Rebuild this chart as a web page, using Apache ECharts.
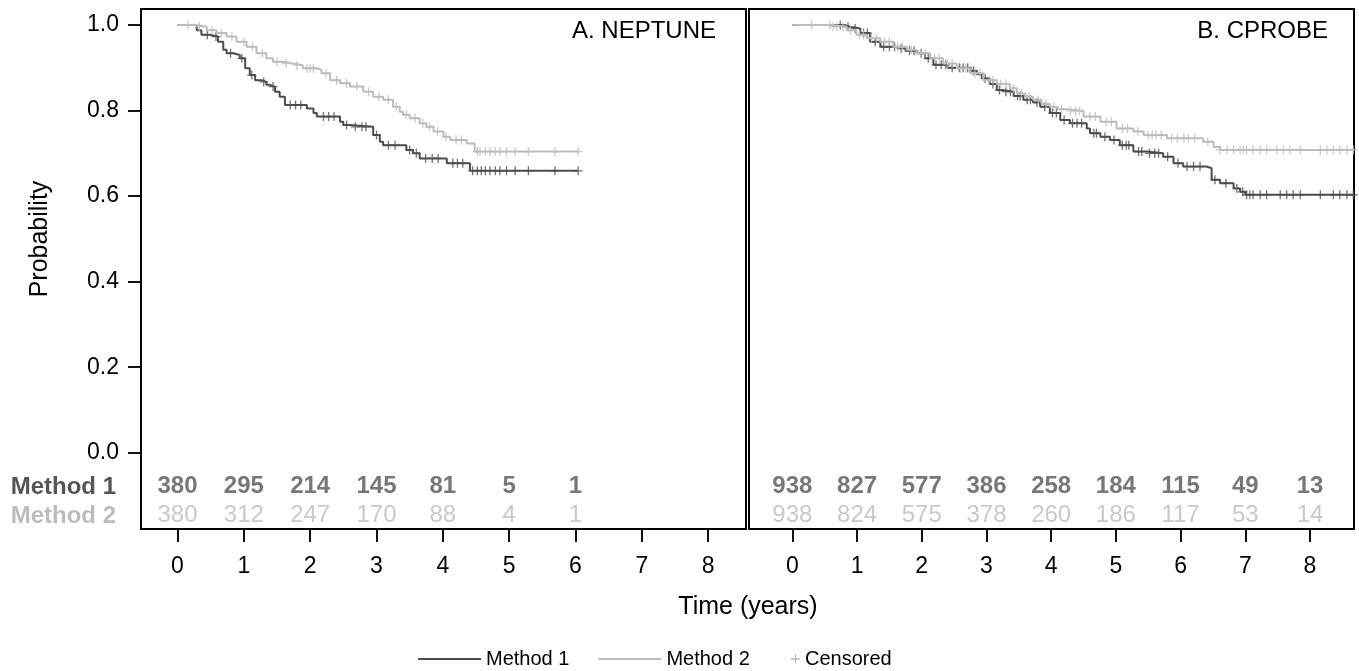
<!DOCTYPE html>
<html><head><meta charset="utf-8">
<script src="https://cdn.jsdelivr.net/npm/echarts@6/dist/echarts.min.js"></script>
<style>html,body{margin:0;padding:0;background:#fff}#c{width:1359px;height:671px}</style>
</head><body><div id="c"></div>
<script>
// ---------- data ----------
const xTicks = [0, 1, 2, 3, 4, 5, 6, 7, 8];
const yTicks = [0, 0.2, 0.4, 0.6, 0.8, 1.0];
const panelTitles = ['A. NEPTUNE', 'B. CPROBE'];
const methodNames = ['Method 1', 'Method 2'];

// Kaplan-Meier steps: [time (years), survival after the drop]
const neptuneM1 = [[0,1],[0.29,0.988],[0.36,0.977],[0.49,0.973],[0.61,0.961],[0.69,0.942],[0.74,0.934],[0.84,0.930],[0.94,0.922],[1.02,0.899],[1.09,0.883],[1.17,0.871],[1.27,0.867],[1.34,0.860],[1.39,0.856],[1.47,0.844],[1.54,0.832],[1.62,0.813],[1.95,0.805],[2.05,0.794],[2.10,0.786],[2.45,0.774],[2.50,0.766],[2.60,0.762],[2.95,0.743],[3.05,0.727],[3.10,0.719],[3.45,0.708],[3.55,0.700],[3.65,0.688],[4.06,0.677],[4.41,0.659],[6.04,0.659]];
const neptuneM2 = [[0,1],[0.29,0.996],[0.44,0.988],[0.59,0.981],[0.74,0.973],[0.89,0.961],[1.04,0.949],[1.19,0.934],[1.34,0.922],[1.44,0.914],[1.59,0.910],[1.74,0.906],[1.89,0.899],[2.10,0.895],[2.17,0.887],[2.30,0.871],[2.45,0.864],[2.60,0.856],[2.80,0.844],[2.95,0.832],[3.10,0.825],[3.25,0.809],[3.35,0.797],[3.40,0.790],[3.50,0.782],[3.65,0.770],[3.75,0.762],[3.86,0.751],[4.01,0.739],[4.11,0.731],[4.36,0.723],[4.48,0.704],[6.04,0.704]];
const cprobeM1 = [[0,1],[0.80,0.996],[0.89,0.992],[1.05,0.981],[1.20,0.961],[1.36,0.949],[1.61,0.945],[1.75,0.940],[1.92,0.934],[2.05,0.922],[2.18,0.907],[2.40,0.900],[2.75,0.893],[2.85,0.885],[2.93,0.875],[3.05,0.862],[3.16,0.848],[3.24,0.844],[3.42,0.834],[3.57,0.825],[3.72,0.819],[3.83,0.809],[3.98,0.794],[4.14,0.778],[4.29,0.770],[4.55,0.758],[4.60,0.747],[4.76,0.739],[4.91,0.731],[5.06,0.719],[5.27,0.704],[5.48,0.700],[5.73,0.692],[5.89,0.677],[6.04,0.669],[6.40,0.665],[6.48,0.638],[6.61,0.630],[6.82,0.618],[6.92,0.610],[7.00,0.603],[8.68,0.603]];
const cprobeM2 = [[0,1],[0.60,0.996],[0.84,0.988],[0.99,0.977],[1.15,0.969],[1.36,0.961],[1.56,0.949],[1.77,0.942],[1.92,0.934],[2.13,0.922],[2.33,0.910],[2.54,0.899],[2.75,0.887],[2.95,0.871],[3.16,0.862],[3.36,0.852],[3.47,0.840],[3.60,0.832],[3.72,0.825],[3.85,0.815],[3.98,0.809],[4.10,0.803],[4.24,0.799],[4.50,0.786],[4.76,0.774],[5.01,0.758],[5.27,0.751],[5.43,0.743],[5.79,0.735],[6.35,0.727],[6.51,0.715],[6.61,0.708],[8.68,0.708]];

// censoring times (years)
const neptuneCensM1 = [0.45,0.58,0.8,0.97,1.12,1.3,1.44,1.7,1.78,1.86,2.2,2.28,2.36,2.55,2.68,2.78,2.84,3.0,3.18,3.28,3.5,3.6,3.74,3.84,3.93,4.15,4.22,4.3,4.45,4.52,4.58,4.64,4.71,4.79,4.86,4.96,5.09,5.29,5.69,6.04];
const neptuneCensM2 = [0.16,0.33,0.52,0.66,0.82,1.0,1.13,1.28,1.5,1.64,1.8,1.95,2.0,2.05,2.24,2.4,2.55,2.7,2.88,3.04,3.18,3.3,3.45,3.58,3.7,3.8,3.92,4.05,4.2,4.28,4.52,4.56,4.64,4.71,4.79,4.86,4.96,5.09,5.29,5.69,6.04];
const cprobeCensM1 = [0.74,0.86,0.97,1.1,1.16,1.28,1.41,1.5,1.58,1.68,1.81,1.88,1.99,2.1,2.22,2.3,2.37,2.47,2.58,2.64,2.71,2.8,2.98,3.1,3.2,3.3,3.37,3.48,3.52,3.63,3.68,3.78,3.9,4.02,4.08,4.2,4.33,4.4,4.47,4.66,4.7,4.83,4.97,5.1,5.16,5.2,5.35,5.4,5.52,5.6,5.66,5.8,5.96,6.1,6.2,6.3,6.53,6.7,6.87,6.96,7.02,7.07,7.12,7.23,7.33,7.54,7.64,7.74,7.85,8.16,8.36,8.46,8.57,8.67];
const cprobeCensM2 = [0.3,0.58,0.63,0.69,0.78,0.9,1.04,1.1,1.22,1.3,1.42,1.5,1.63,1.7,1.84,1.98,2.05,2.2,2.27,2.4,2.47,2.6,2.68,2.82,2.9,3.04,3.1,3.22,3.3,3.42,3.54,3.66,3.8,3.92,4.04,4.16,4.3,4.38,4.44,4.6,4.68,4.85,4.93,5.1,5.18,5.34,5.5,5.56,5.62,5.7,5.86,5.95,6.05,6.12,6.22,6.42,6.61,6.72,6.82,6.92,6.97,7.02,7.12,7.23,7.33,7.49,7.59,7.69,7.85,8.16,8.26,8.36,8.46,8.57,8.67];

// numbers at risk
const riskTimesA = [0, 1, 2, 3, 4, 5, 6];
const neptuneRiskM1 = [380, 295, 214, 145, 81, 5, 1];
const neptuneRiskM2 = [380, 312, 247, 170, 88, 4, 1];
const riskTimesB = [0, 1, 2, 3, 4, 5, 6, 7, 8];
const cprobeRiskM1 = [938, 827, 577, 386, 258, 184, 115, 49, 13];
const cprobeRiskM2 = [938, 824, 575, 378, 260, 186, 117, 53, 14];

// ---------- styling ----------
const FONT = '"Liberation Sans", Arial, Helvetica, sans-serif';
const DARK = '#4d4d4d', LIGHT = '#bdbdbd';
const DARK_TXT = '#555555', LIGHT_TXT = '#bcbcbc';
const PLUS = 'path://M3,0H4V3H7V4H4V7H3V4H0V3H3Z';
const ROW1 = -0.078, ROW2 = -0.146;   // y-levels of the at-risk rows

function survAt(curve, t) {
  let v = curve[0][1];
  for (const p of curve) { if (p[0] <= t) v = p[1]; else break; }
  return v;
}
function kmLine(name, data, color, gi, z) {
  return { type: 'line', name, data, step: 'end', xAxisIndex: gi, yAxisIndex: gi,
    showSymbol: false, symbol: 'none', lineStyle: { color, width: 2 }, itemStyle: { color },
    animation: false, z, silent: true };
}
function censor(curve, times, color, gi, z) {
  return { type: 'scatter', name: 'Censored', data: times.map(t => [t, survAt(curve, t)]),
    xAxisIndex: gi, yAxisIndex: gi, symbol: PLUS, symbolSize: 9, itemStyle: { color },
    animation: false, z, silent: true };
}
function riskRow(times, counts, level, color, bold, gi) {
  return { type: 'scatter', name: 'risk', data: times.map((t, i) => [t, level, counts[i]]),
    xAxisIndex: gi, yAxisIndex: gi, symbolSize: 1, itemStyle: { color: 'rgba(0,0,0,0)' },
    label: { show: true, position: 'inside', formatter: p => String(p.data[2]), color,
      fontSize: 24, fontWeight: bold ? 'bold' : 'normal', fontFamily: FONT },
    animation: false, silent: true };
}

const gridBase = { top: 9, width: 605, height: 520, show: true, borderColor: '#000', borderWidth: 2, backgroundColor: 'transparent' };
function xAx(gi, min, max) {
  return { gridIndex: gi, type: 'value', min, max, position: 'bottom',
    axisLine: { show: false, onZero: false }, splitLine: { show: false },
    axisTick: { show: true, length: 13, customValues: xTicks, lineStyle: { color: '#111', width: 2 } },
    axisLabel: { show: true, customValues: xTicks, fontSize: 23, color: '#000', margin: 26, fontFamily: FONT } };
}
function yAx(gi, showTicks) {
  return { gridIndex: gi, type: 'value', min: -0.1784, max: 1.0374, position: 'left',
    axisLine: { show: false, onZero: false }, splitLine: { show: false },
    axisTick: { show: showTicks, length: 13, customValues: yTicks, lineStyle: { color: '#111', width: 2 } },
    axisLabel: { show: showTicks, customValues: yTicks, formatter: v => v.toFixed(1), fontSize: 23, color: '#000', margin: 22, fontFamily: FONT } };
}

const chart = echarts.init(document.getElementById('c'), null, { renderer: 'canvas' });
chart.setOption({
  animation: false,
  backgroundColor: '#fff',
  grid: [Object.assign({ left: 141 }, gridBase), Object.assign({ left: 749 }, gridBase)],
  xAxis: [xAx(0, -0.55, 8.57), xAx(1, -0.67, 8.68)],
  yAxis: [yAx(0, true), yAx(1, false)],
  legend: [
    { data: methodNames.map(n => ({ name: n })), left: 413, top: 644, icon: 'rect', itemWidth: 63, itemHeight: 2,
      itemGap: 29, selectedMode: false, textStyle: { fontSize: 20, color: '#000', fontFamily: FONT } },
    { data: [{ name: 'Censored', itemStyle: { color: '#a8a8a8' } }], left: 786, top: 644, icon: PLUS,
      itemWidth: 9, itemHeight: 9, selectedMode: false, textStyle: { fontSize: 20, color: '#000', fontFamily: FONT } }
  ],
  series: [
    kmLine(methodNames[0], neptuneM1, DARK, 0, 2),
    kmLine(methodNames[1], neptuneM2, LIGHT, 0, 3),
    censor(neptuneM1, neptuneCensM1, DARK, 0, 2),
    censor(neptuneM2, neptuneCensM2, LIGHT, 0, 3),
    kmLine(methodNames[0], cprobeM1, DARK, 1, 2),
    kmLine(methodNames[1], cprobeM2, LIGHT, 1, 3),
    censor(cprobeM1, cprobeCensM1, DARK, 1, 2),
    censor(cprobeM2, cprobeCensM2, LIGHT, 1, 3),
    riskRow(riskTimesA, neptuneRiskM1, ROW1, DARK_TXT, true, 0),
    riskRow(riskTimesA, neptuneRiskM2, ROW2, LIGHT_TXT, false, 0),
    riskRow(riskTimesB, cprobeRiskM1, ROW1, DARK_TXT, true, 1),
    riskRow(riskTimesB, cprobeRiskM2, ROW2, LIGHT_TXT, false, 1)
  ],
  graphic: [
    { type: 'text', x: 40, y: 239, rotation: Math.PI / 2, silent: true,
      style: { text: 'Probability', align: 'center', verticalAlign: 'middle', fill: '#000', fontSize: 25, fontFamily: FONT } },
    { type: 'text', x: 748, y: 607, silent: true,
      style: { text: 'Time (years)', align: 'center', verticalAlign: 'middle', fill: '#000', fontSize: 25, fontFamily: FONT } },
    { type: 'text', x: 716, y: 31, silent: true,
      style: { text: panelTitles[0], align: 'right', verticalAlign: 'middle', fill: '#000', fontSize: 24, fontFamily: FONT } },
    { type: 'text', x: 1328, y: 31, silent: true,
      style: { text: panelTitles[1], align: 'right', verticalAlign: 'middle', fill: '#000', fontSize: 24, fontFamily: FONT } },
    { type: 'text', x: 116, y: 487, silent: true,
      style: { text: methodNames[0], align: 'right', verticalAlign: 'middle', fill: DARK_TXT, fontSize: 24, fontWeight: 'bold', fontFamily: FONT } },
    { type: 'text', x: 116, y: 516, silent: true,
      style: { text: methodNames[1], align: 'right', verticalAlign: 'middle', fill: LIGHT_TXT, fontSize: 24, fontWeight: 'bold', fontFamily: FONT } }
  ]
});
</script>
</body></html>
